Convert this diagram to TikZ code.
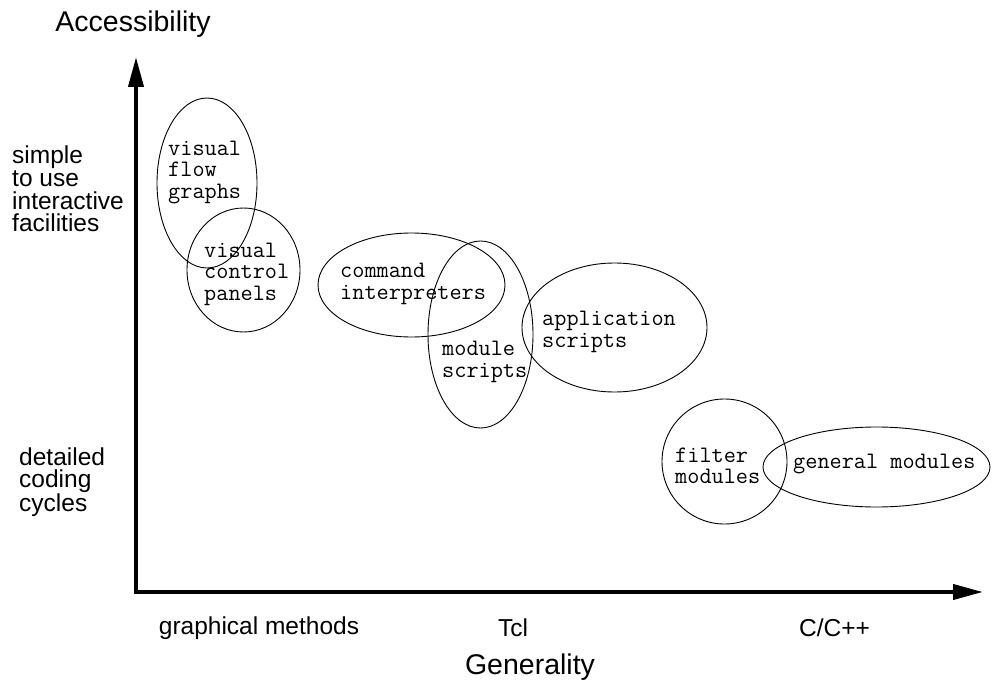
\documentclass[tikz,border=0pt]{standalone}
\usepackage{fontspec}
\setmainfont{Liberation Sans}
\usetikzlibrary{arrows.meta}
\begin{document}
\begin{tikzpicture}[x=1pt,y=-1pt,
  axis/.style={line width=4pt,{Triangle[length=30pt,width=15pt]}-{Triangle[length=30pt,width=15pt]}},
  blob/.style={line width=0.9pt},
  mono/.style={font=\fontsize{23.6}{21.5}\selectfont\ttfamily,align=left,inner sep=0pt},
  side/.style={font=\fontsize{24.5}{22.8}\selectfont,align=left,inner sep=0pt},
  tick/.style={font=\fontsize{24.5}{26}\selectfont,inner sep=0pt},
  title/.style={font=\fontsize{28.5}{30}\selectfont,inner sep=0pt}]
\useasboundingbox (0,0) rectangle (994,685);
% axes
\coordinate (ytip) at (136,57);
\coordinate (origin) at (136,592);
\coordinate (xtip) at (983,592);
\draw[axis] (ytip) -- (origin) -- (xtip);
% titles
\node[title] (acc) at (133,24) {Accessibility};
\node[title] (gen) at (530,667) {Generality};
% side labels
\node[side,anchor=west] (simple) at (12,189) {simple\\to use\\interactive\\facilities};
\node[side,anchor=west] (detailed) at (19,482) {detailed\\coding\\cycles};
% tick labels
\node[tick] (gm) at (259,628) {graphical methods};
\node[tick] (tcl) at (513,628) {Tcl};
\node[tick] (cpp) at (834.5,628) {C/C++};
% ellipses
\draw[blob] (207,183) ellipse [x radius=50, y radius=85];
\draw[blob] (243.5,270) ellipse [x radius=56.5, y radius=62];
\draw[blob] (411.5,285) ellipse [x radius=93.5, y radius=52];
\draw[blob] (480.5,334.5) ellipse [x radius=52.5, y radius=93.5];
\draw[blob] (614.5,327.5) ellipse [x radius=92.5, y radius=64.5];
\draw[blob] (724.5,461.5) ellipse [x radius=62.5, y radius=62.5];
\draw[blob] (876.5,467) ellipse [x radius=113.5, y radius=40];
% ellipse texts
\node[mono,anchor=west] (vfg) at (168,172) {visual\\flow\\graphs};
\node[mono,anchor=west] (vcp) at (204,274) {visual\\control\\panels};
\node[mono,anchor=west] (ci) at (340,284) {command\\interpreters};
\node[mono,anchor=west] (ms) at (442,362) {module\\scripts};
\node[mono,anchor=west] (as) at (542,332) {application\\scripts};
\node[mono,anchor=west] (fm) at (675,466) {filter\\modules};
\node[mono,anchor=west] (gmod) at (793,464) {general modules};
\end{tikzpicture}
\end{document}
